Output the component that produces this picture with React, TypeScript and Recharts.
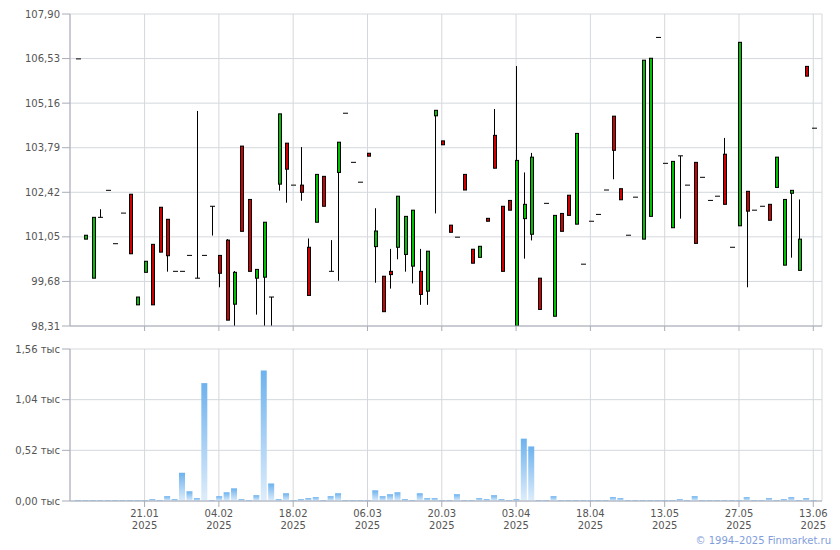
import { ComposedChart, Bar, XAxis, YAxis, CartesianGrid } from 'recharts';

const dates = [
  '06.01.2025', '09.01.2025', '10.01.2025', '13.01.2025', '14.01.2025', '15.01.2025', '16.01.2025', '17.01.2025', '20.01.2025', '21.01.2025',
  '22.01.2025', '23.01.2025', '24.01.2025', '27.01.2025', '28.01.2025', '29.01.2025', '30.01.2025', '31.01.2025', '03.02.2025', '04.02.2025',
  '05.02.2025', '06.02.2025', '07.02.2025', '10.02.2025', '11.02.2025', '12.02.2025', '13.02.2025', '14.02.2025', '17.02.2025', '18.02.2025',
  '19.02.2025', '20.02.2025', '21.02.2025', '24.02.2025', '25.02.2025', '26.02.2025', '27.02.2025', '28.02.2025', '03.03.2025', '06.03.2025',
  '07.03.2025', '10.03.2025', '11.03.2025', '12.03.2025', '13.03.2025', '14.03.2025', '17.03.2025', '18.03.2025', '19.03.2025', '20.03.2025',
  '21.03.2025', '24.03.2025', '25.03.2025', '26.03.2025', '27.03.2025', '28.03.2025', '31.03.2025', '01.04.2025', '02.04.2025', '03.04.2025',
  '04.04.2025', '07.04.2025', '08.04.2025', '09.04.2025', '10.04.2025', '11.04.2025', '14.04.2025', '15.04.2025', '16.04.2025', '18.04.2025',
  '21.04.2025', '22.04.2025', '24.04.2025', '28.04.2025', '29.04.2025', '30.04.2025', '05.05.2025', '06.05.2025', '07.05.2025', '13.05.2025',
  '14.05.2025', '15.05.2025', '16.05.2025', '19.05.2025', '20.05.2025', '21.05.2025', '22.05.2025', '23.05.2025', '26.05.2025', '27.05.2025',
  '28.05.2025', '29.05.2025', '30.05.2025', '02.06.2025', '03.06.2025', '04.06.2025', '05.06.2025', '09.06.2025', '11.06.2025', '13.06.2025',
];

const opens = [
  106.52, 100.98, 99.78, 101.65, 102.48, 100.84, 101.78, 102.36, 98.96, 99.96,
  100.82, 101.96, 101.59, 99.99, 99.99, 100.48, 99.78, 100.48, 101.99, 100.48,
  100.95, 98.98, 103.84, 102.2, 99.78, 99.81, 99.2, 102.67, 103.93, 102.64,
  102.64, 100.73, 101.5, 102.91, 99.99, 103.03, 104.85, 103.34, 102.73, 103.62,
  100.75, 99.84, 99.99, 100.73, 100.51, 100.15, 99.99, 99.38, 104.77, 104.0,
  101.41, 101.04, 102.97, 100.67, 100.42, 101.62, 104.17, 101.99, 102.17, 98.31,
  101.61, 101.13, 99.78, 102.08, 98.61, 101.77, 102.33, 101.44, 100.21, 101.53,
  101.74, 102.49, 104.76, 102.53, 101.1, 102.27, 100.98, 101.68, 107.18, 103.31,
  101.33, 103.54, 102.64, 103.34, 102.88, 102.17, 102.3, 103.59, 100.73, 101.39,
  102.45, 101.87, 101.99, 102.05, 102.57, 100.18, 102.39, 100.02, 106.29, 104.39,
];

const highs = [
  106.52, 101.1, 101.65, 101.9, 102.48, 100.84, 101.78, 102.36, 99.2, 100.3,
  100.82, 101.96, 101.59, 99.99, 99.99, 100.48, 104.92, 100.48, 101.99, 100.48,
  100.98, 100.0, 103.84, 102.2, 100.05, 101.5, 99.2, 104.83, 103.93, 102.64,
  103.81, 101.0, 102.97, 102.91, 100.95, 103.96, 104.85, 103.34, 102.73, 103.62,
  101.93, 99.84, 100.68, 102.3, 101.68, 101.87, 100.68, 100.61, 104.94, 104.0,
  101.41, 101.04, 102.97, 100.67, 100.76, 101.62, 104.98, 101.99, 102.17, 106.3,
  103.03, 103.63, 99.78, 102.08, 101.71, 101.77, 102.33, 104.23, 100.21, 101.53,
  101.74, 102.49, 104.76, 102.53, 101.1, 102.27, 106.48, 106.54, 107.18, 103.31,
  103.37, 103.54, 102.64, 103.34, 102.88, 102.17, 102.3, 104.09, 100.73, 107.03,
  102.45, 101.87, 101.99, 102.05, 103.5, 102.2, 102.48, 102.2, 106.29, 104.39,
];

const lows = [
  106.52, 100.98, 99.78, 101.65, 102.48, 100.84, 101.78, 100.53, 98.96, 99.96,
  98.96, 100.58, 99.98, 99.99, 99.99, 100.48, 99.78, 100.48, 101.09, 99.5,
  98.49, 98.31, 101.22, 99.99, 98.66, 98.31, 98.31, 102.47, 102.1, 102.64,
  102.16, 99.25, 101.5, 101.99, 99.99, 99.7, 104.85, 103.34, 102.73, 103.53,
  99.64, 98.75, 99.46, 100.36, 99.98, 99.62, 98.96, 98.96, 101.77, 103.88,
  101.19, 101.04, 102.49, 100.24, 100.42, 101.53, 103.16, 99.99, 101.87, 98.31,
  100.38, 100.94, 98.82, 102.08, 98.61, 101.22, 101.71, 101.44, 100.21, 101.53,
  101.74, 102.49, 102.82, 102.19, 101.1, 102.27, 100.98, 101.68, 107.18, 103.31,
  101.33, 101.61, 102.64, 100.85, 102.88, 102.17, 102.3, 102.05, 100.73, 101.39,
  99.5, 101.87, 101.99, 101.56, 102.57, 100.18, 100.41, 100.02, 105.99, 104.39,
];

const closes = [
  106.52, 101.1, 101.65, 101.65, 102.48, 100.84, 101.78, 100.53, 99.2, 100.3,
  98.96, 100.58, 100.47, 99.99, 99.99, 100.48, 99.78, 100.48, 101.99, 99.93,
  98.49, 99.96, 101.22, 99.99, 100.05, 101.5, 99.2, 104.83, 103.13, 102.64,
  102.42, 99.25, 102.97, 101.99, 99.99, 103.96, 104.85, 103.34, 102.73, 103.53,
  101.23, 98.75, 99.89, 102.3, 101.68, 101.87, 99.28, 100.61, 104.94, 103.88,
  101.19, 101.04, 102.49, 100.24, 100.76, 101.53, 103.16, 99.99, 101.87, 103.4,
  102.05, 103.5, 98.82, 102.08, 101.71, 101.22, 101.71, 104.23, 100.21, 101.53,
  101.74, 102.49, 103.71, 102.19, 101.1, 102.27, 106.48, 106.54, 107.18, 103.31,
  103.37, 103.54, 102.64, 100.85, 102.88, 102.17, 102.3, 102.05, 100.73, 107.03,
  101.84, 101.87, 101.99, 101.56, 103.5, 102.2, 102.48, 100.98, 105.99, 104.39,
];

const volumes = [
  10, 10, 10, 10, 10, 10, 10, 10, 10, 10,
  20, 10, 50, 20, 290, 100, 30, 1210, 10, 50,
  90, 130, 20, 10, 60, 1340, 180, 20, 80, 10,
  20, 30, 40, 10, 50, 80, 10, 10, 10, 10,
  110, 50, 70, 90, 20, 10, 80, 30, 30, 10,
  10, 70, 10, 10, 30, 20, 60, 20, 10, 20,
  640, 560, 10, 10, 50, 10, 10, 10, 10, 10,
  10, 10, 40, 30, 10, 10, 10, 10, 10, 10,
  10, 20, 10, 50, 10, 10, 10, 10, 10, 10,
  40, 10, 10, 30, 10, 20, 40, 10, 30, 10,
];

const tickDates = [
  '21.01.2025', '04.02.2025', '18.02.2025', '06.03.2025', '20.03.2025',
  '03.04.2025', '18.04.2025', '13.05.2025', '27.05.2025', '13.06.2025',
];
const priceTicks = [98.31, 99.68, 101.05, 102.42, 103.79, 105.16, 106.53, 107.9];
const volumeTicks = [0, 520, 1040, 1560];

const data = dates.map((date, i) => ({
  date,
  open: opens[i],
  high: highs[i],
  low: lows[i],
  close: closes[i],
  vol: volumes[i],
}));

const FONT = '"DejaVu Sans", Tahoma, sans-serif';
const GRID = '#d4d8dc';
const AXIS = '#a9acb8';
const TEXT = '#555';
const UP = '#00c000';
const DOWN = '#d00000';

const Candle = (props: any) => {
  const { x, y, width, height, payload } = props;
  const cx = Math.round(x + width / 2) + 0.5;
  const top = height >= 0 ? y : y + height;
  const h = Math.abs(height);
  const { open, close, high, low } = payload;
  if (high === low || h === 0) {
    return <line x1={cx - 2.5} x2={cx + 2.5} y1={top} y2={top} stroke="#000" strokeWidth={1} />;
  }
  const yOf = (v: number) => top + ((high - v) / (high - low)) * h;
  const bTop = yOf(Math.max(open, close));
  const bBot = yOf(Math.min(open, close));
  return (
    <g>
      <line x1={cx} x2={cx} y1={top} y2={top + h} stroke="#000" strokeWidth={1} />
      {open === close ? (
        <line x1={cx - 2.5} x2={cx + 2.5} y1={bTop} y2={bTop} stroke="#000" strokeWidth={1} />
      ) : (
        <rect
          x={cx - 1}
          y={bTop}
          width={3}
          height={Math.max(bBot - bTop, 1)}
          fill={close > open ? UP : DOWN}
          stroke="#000"
          strokeWidth={1}
        />
      )}
    </g>
  );
};

const NoTick = () => <g />;

const DateTick = ({ x, y, payload }: any) => {
  const [d, m, yr] = String(payload.value).split('.');
  return (
    <g>
      <text x={x} y={y + 8} textAnchor="middle" fill={TEXT} fontSize={10} fontFamily={FONT}>
        {d}.{m}
      </text>
      <text x={x} y={y + 20} textAnchor="middle" fill={TEXT} fontSize={10} fontFamily={FONT}>
        {yr}
      </text>
    </g>
  );
};

const priceFmt = (v: number) => v.toFixed(2).replace('.', ',');
const volFmt = (v: number) => (v / 1000).toFixed(2).replace('.', ',') + ' тыс';

export default function App() {
  return (
    <div style={{ position: 'absolute', left: 0, top: 0, width: 840, height: 550, background: '#fff' }}>
      <ComposedChart width={840} height={340} data={data} margin={{ top: 14, right: 18, bottom: 0, left: 0 }}>
        <CartesianGrid stroke={GRID} />
        <XAxis
          dataKey="date"
          ticks={tickDates}
          interval={0}
          tick={<NoTick />}
          tickSize={5}
          height={14}
          padding={{ left: 4, right: 5 }}
          axisLine={{ stroke: AXIS }}
          tickLine={{ stroke: AXIS }}
        />
        <YAxis
          type="number"
          domain={[98.31, 107.9]}
          ticks={priceTicks}
          interval={0}
          allowDataOverflow
          width={70}
          tickSize={8}
          tickFormatter={priceFmt}
          tick={{ fill: TEXT, fontSize: 10, fontFamily: FONT }}
          axisLine={{ stroke: AXIS }}
          tickLine={{ stroke: AXIS }}
        />
        <Bar
          dataKey={(d: any) => [d.low, d.high]}
          shape={<Candle />}
          barSize={4}
          isAnimationActive={false}
        />
      </ComposedChart>
      <ComposedChart width={840} height={210} data={data} margin={{ top: 9, right: 18, bottom: 0, left: 0 }}>
        <defs>
          <linearGradient id="volGrad" x1="0" y1="0" x2="0" y2="1">
            <stop offset="0%" stopColor="#6db2ee" />
            <stop offset="100%" stopColor="#deedfb" />
          </linearGradient>
        </defs>
        <CartesianGrid stroke={GRID} />
        <XAxis
          dataKey="date"
          ticks={tickDates}
          interval={0}
          tick={<DateTick />}
          tickSize={6}
          height={49}
          padding={{ left: 4, right: 5 }}
          axisLine={{ stroke: AXIS }}
          tickLine={{ stroke: AXIS }}
        />
        <YAxis
          type="number"
          domain={[0, 1560]}
          ticks={volumeTicks}
          interval={0}
          allowDataOverflow
          width={70}
          tickSize={8}
          tickFormatter={volFmt}
          tick={{ fill: TEXT, fontSize: 10, fontFamily: FONT }}
          axisLine={{ stroke: AXIS }}
          tickLine={{ stroke: AXIS }}
        />
        <Bar dataKey="vol" fill="url(#volGrad)" barSize={6} isAnimationActive={false} />
      </ComposedChart>
      <div
        style={{
          position: 'absolute',
          top: 535,
          right: 9,
          fontFamily: FONT,
          fontSize: 10,
          color: '#7f9edc',
          whiteSpace: 'nowrap',
        }}
      >
        © 1994–2025 Finmarket.ru
      </div>
    </div>
  );
}
